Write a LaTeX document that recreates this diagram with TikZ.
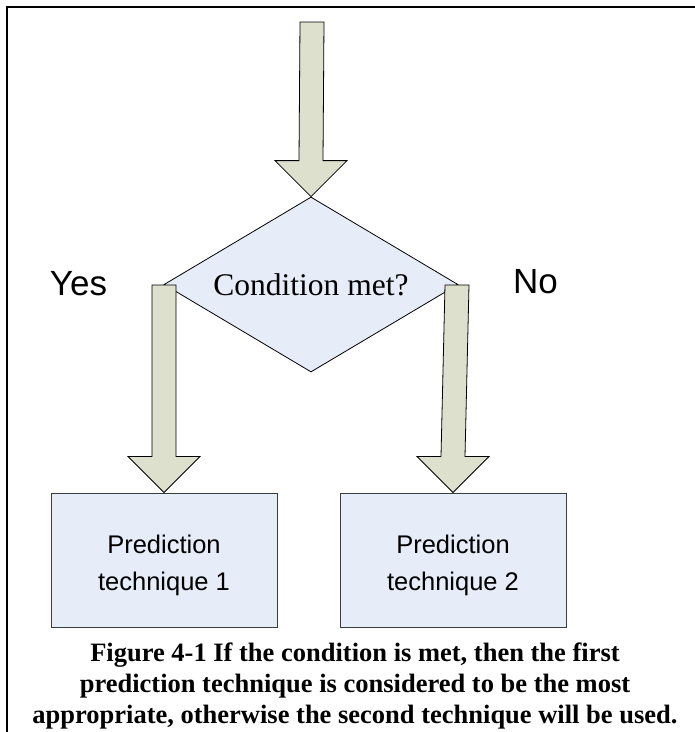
\documentclass[tikz,border=0pt]{standalone}
\usepackage{fontspec}
\setmainfont{Liberation Serif}
\newfontfamily\arialfont{Liberation Sans}
\usetikzlibrary{shapes.geometric,calc}
\definecolor{arrowfill}{RGB}{221,224,204}
\definecolor{shapefill}{RGB}{230,236,248}
\definecolor{boxline}{RGB}{60,60,60}

% block arrow from a start point down to a tip point
\newcommand\flowarrow[2]{%
  \draw[blockarrow] ($(#1)+(-12,0)$) -- ($(#2)+(-12,-36)$) -- ($(#2)+(-36,-36)$)
    -- (#2) -- ($(#2)+(36,-36)$) -- ($(#2)+(12,-36)$) -- ($(#1)+(12,0)$) -- cycle;}

\begin{document}
\begin{tikzpicture}[x=1pt,y=-1pt,
  blockarrow/.style={draw=black, line width=0.8pt, fill=arrowfill, line join=miter},
  decision/.style={diamond, aspect=1.68, draw=black, line width=0.8pt, fill=shapefill,
    minimum width=294pt, minimum height=175pt, inner sep=0pt,
    font=\fontsize{31.5}{36}\selectfont},
  techbox/.style={rectangle, draw=boxline, line width=1pt, fill=shapefill,
    minimum width=226pt, minimum height=134pt, inner sep=0pt},
  techlabel/.style={align=center, inner sep=0pt, yshift=-5pt,
    font=\arialfont\fontsize{25.5}{37}\selectfont},
  answer/.style={font=\arialfont\fontsize{35}{40}\selectfont, inner sep=0pt},
  captiontext/.style={align=center, inner sep=0pt,
    font=\bfseries\fontsize{26.5}{31}\selectfont},
  framerule/.style={line width=1.8pt}]

\useasboundingbox (0,0) rectangle (695,732);

% page frame
\draw[framerule] (7,732) -- (7,7) -- (695,7);

% shapes
\node[decision] (cond) at (311,284.5) {Condition met?};
\node[techbox, label={[techlabel]center:{Prediction\\technique 1}}] (p1) at (164,560) {};
\node[techbox, label={[techlabel]center:{Prediction\\technique 2}}] (p2) at (453,560) {};

% answer labels
\node[answer] (yeslabel) at (78.5,283.5) {Yes};
\node[answer] (nolabel) at (535.5,281.5) {No};

% arrow start points
\coordinate (in) at (312,22);
\coordinate (yes) at (164,285);
\coordinate (no) at (457,285);

% block arrows
\flowarrow{in}{cond.north}
\flowarrow{yes}{p1.north}
\flowarrow{no}{p2.north}

% caption
\node[captiontext, anchor=north] (caption) at (355,643)
  {Figure 4-1 If the condition is met, then the first\\
   prediction technique is considered to be the most\\
   appropriate, otherwise the second technique will be used.};
\end{tikzpicture}
\end{document}
